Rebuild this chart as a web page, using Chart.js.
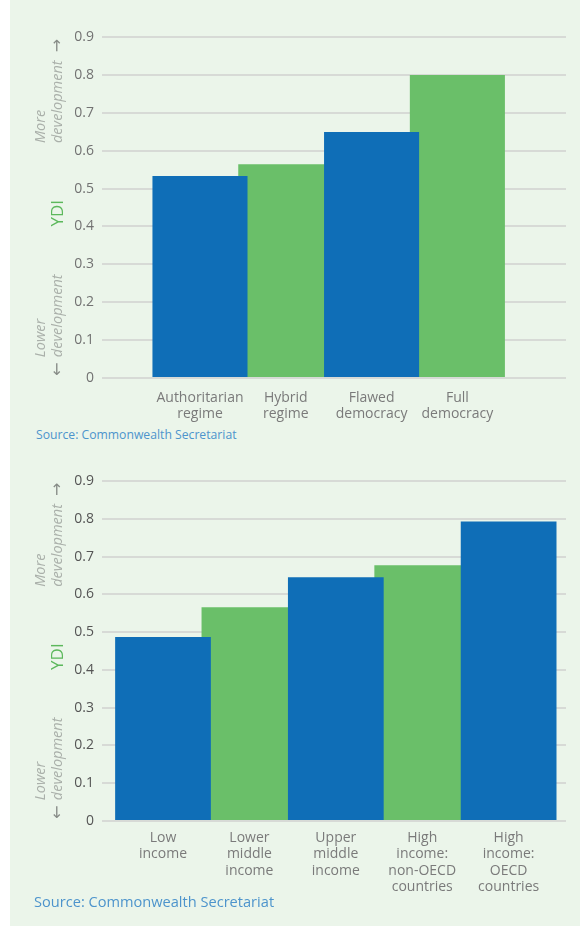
<!DOCTYPE html>
<html>
<head>
<meta charset="utf-8">
<script src="https://cdn.jsdelivr.net/npm/chart.js@4"></script>
<style>
  html, body { margin: 0; padding: 0; background: #ffffff; }
  #panel {
    position: absolute; left: 10px; top: 0; width: 570px; height: 926px;
    background: #ebf5ea; font-family: "Open Sans", sans-serif;
  }
  .box { position: absolute; left: 0; width: 570px; }
  .source { position: absolute; color: #4d94cc; white-space: nowrap; }
</style>
</head>
<body>
<div id="panel">
  <div class="box" style="top:0;height:426px"><canvas id="regimeChart"></canvas></div>
  <div class="source" style="left:26px;top:426px;font-size:12.2px">Source: Commonwealth Secretariat</div>
  <div class="box" style="top:444px;height:451px"><canvas id="incomeChart"></canvas></div>
  <div class="source" style="left:24px;top:891px;font-size:14.6px">Source: Commonwealth Secretariat</div>
</div>
<script>
/* ==========================================
DATA
========================================== */

const regimeLabels = [
  ["Authoritarian", "regime"],
  ["Hybrid", "regime"],
  ["Flawed", "democracy"],
  ["Full", "democracy"]
];
const regimeYdi = [0.533, 0.564, 0.649, 0.800];

const incomeLabels = [
  ["Low", "income"],
  ["Lower", "middle", "income"],
  ["Upper", "middle", "income"],
  ["High", "income:", "non-OECD", "countries"],
  ["High", "income:", "OECD", "countries"]
];
const incomeYdi = [0.487, 0.566, 0.645, 0.677, 0.793];

const yTicks = [0, 0.1, 0.2, 0.3, 0.4, 0.5, 0.6, 0.7, 0.8, 0.9];

const BLUE = "#0f6eb7";
const GREEN = "#6abf69";
const FONT = "'Open Sans', sans-serif";

/* ==========================================
SIDE NOTES (YDI, more / lower development)
========================================== */

const sideNotes = {
  id: "sideNotes",
  afterDraw(chart) {
    const ctx = chart.ctx;
    const y = chart.scales.y;
    const put = (text, x, v, font, color, align) => {
      ctx.save();
      ctx.translate(x, y.getPixelForValue(v));
      ctx.rotate(-Math.PI / 2);
      ctx.font = font;
      ctx.fillStyle = color;
      ctx.textAlign = align || "left";
      ctx.textBaseline = "middle";
      ctx.fillText(text, 0, 0);
      ctx.restore();
    };
    const it = "italic 14.5px " + FONT;
    const grey = "#aab0aa";
    const arrow = "16px 'DejaVu Sans', sans-serif";
    put("More", 31, 0.62, it, grey);
    put("development", 47.5, 0.62, it, grey);
    put("\u2192", 48, 0.86, arrow, "#868b86");
    put("Lower", 31, 0.055, it, grey);
    put("development", 47.5, 0.055, it, grey);
    put("\u2190", 48, 0.005, arrow, "#868b86");
    put("YDI", 48.5, 0.435, "17px " + FONT, "#5cb85c", "center");
  }
};

/* ==========================================
CHART BUILDER
========================================== */

function ydiChart(id, labels, values, xMin, xMax, xFont, xPad, yColor, xHeight) {
  const pts = values.map((v, i) => ({ x: i, y: v }));
  return new Chart(document.getElementById(id), {
    type: "bar",
    data: {
      datasets: [
        { data: pts.filter((p, i) => i % 2 === 0), backgroundColor: BLUE },
        { data: pts.filter((p, i) => i % 2 === 1), backgroundColor: GREEN }
      ]
    },
    options: {
      responsive: true,
      maintainAspectRatio: false,
      animation: false,
      layout: { padding: { top: 37, right: 14, left: 0, bottom: 0 } },
      plugins: { legend: { display: false }, tooltip: { enabled: false } },
      datasets: { bar: { grouped: false, categoryPercentage: 1, barPercentage: 1.108 } },
      scales: {
        x: {
          type: "linear",
          offset: false,
          min: xMin,
          max: xMax,
          grid: { display: false, offset: false },
          border: { display: false },
          afterBuildTicks: (s) => { s.ticks = labels.map((l, i) => ({ value: i })); },
          afterFit: (s) => { s.height = xHeight; },
          ticks: {
            autoSkip: false,
            maxRotation: 0,
            padding: xPad,
            color: "#7a7a7a",
            font: { family: FONT, size: xFont, lineHeight: 1.16 },
            callback: (v) => labels[v]
          }
        },
        y: {
          min: 0,
          max: 0.9,
          afterBuildTicks: (s) => { s.ticks = yTicks.map((v) => ({ value: v })); },
          afterFit: (s) => { s.width = 92; },
          grid: { color: "#d7dad6", lineWidth: 2, drawTicks: false },
          border: { display: false },
          ticks: {
            padding: 8,
            color: yColor,
            font: { family: FONT, size: 14 },
            callback: (v) => (v === 0 ? "0" : v.toFixed(1))
          }
        }
      }
    },
    plugins: [sideNotes]
  });
}

ydiChart("regimeChart", regimeLabels, regimeYdi, -1.142, 4.266, 14, 4, "#727272", 48);
ydiChart("incomeChart", incomeLabels, incomeYdi, -0.706, 4.664, 14, 1, "#555555", 74);
</script>
</body>
</html>
